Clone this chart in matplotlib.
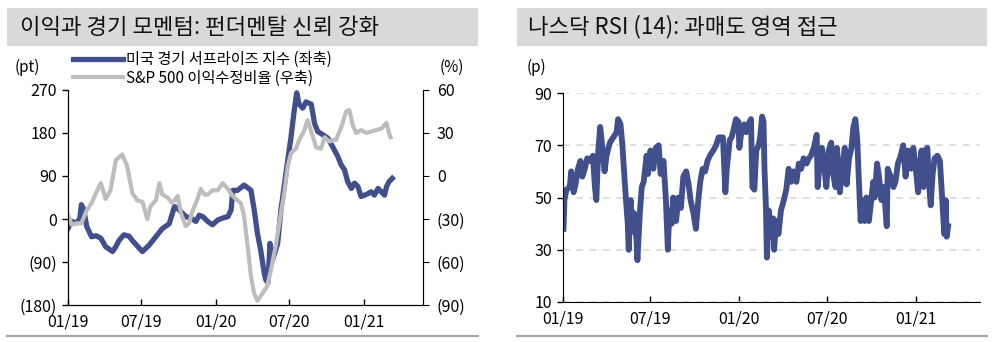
import matplotlib
matplotlib.use('Agg')
import matplotlib.pyplot as plt
import matplotlib.dates as mdates
import pandas as pd
from matplotlib.patches import Rectangle
from matplotlib.lines import Line2D
from matplotlib.ticker import FuncFormatter

plt.rcParams['font.family'] = ['Noto Sans CJK KR', 'DejaVu Sans']

BLUE = '#41508C'
GRAY = '#BDBDBD'

# 미국 경기 서프라이즈 지수 (pt)
surprise_dates = [
    '2019-01-01', '2019-01-10', '2019-01-22', '2019-01-30', '2019-02-03', '2019-02-09',
    '2019-02-16', '2019-02-28', '2019-03-11', '2019-03-23', '2019-04-04', '2019-04-21',
    '2019-04-29', '2019-05-07', '2019-05-19', '2019-06-01', '2019-06-09', '2019-06-26',
    '2019-07-04', '2019-07-20', '2019-08-06', '2019-08-22', '2019-09-08', '2019-09-21',
    '2019-09-29', '2019-10-11', '2019-10-19', '2019-11-01', '2019-11-13', '2019-11-21',
    '2019-11-30', '2019-12-12', '2019-12-24', '2020-01-06', '2020-01-18', '2020-01-31',
    '2020-02-08', '2020-02-12', '2020-02-24', '2020-03-11', '2020-03-28', '2020-04-05',
    '2020-04-13', '2020-04-21', '2020-04-30', '2020-05-04', '2020-05-09', '2020-05-14',
    '2020-05-20', '2020-06-02', '2020-06-10', '2020-06-18', '2020-06-27', '2020-07-05',
    '2020-07-13', '2020-07-19', '2020-07-25', '2020-08-03', '2020-08-11', '2020-08-24',
    '2020-09-01', '2020-09-09', '2020-09-22', '2020-10-04', '2020-10-16', '2020-10-29',
    '2020-11-06', '2020-11-14', '2020-11-22', '2020-12-01', '2020-12-09', '2020-12-17',
    '2020-12-25', '2021-01-03', '2021-01-11', '2021-01-19', '2021-01-27', '2021-02-05',
    '2021-02-13', '2021-02-21', '2021-02-26', '2021-03-04', '2021-03-12',
]
surprise = [
    -20, -5, -8, 0, 30, 20,
    -15, -37, -35, -40, -58, -68,
    -58, -45, -33, -36, -45, -61,
    -68, -55, -37, -20, -10, 26,
    22, 12, 5, 2, -5, 8,
    5, -5, -12, -2, 2, 5,
    19, 60, 60, 71, 60, 19,
    -30, -65, -114, -128, -133, -51,
    -86, -51, 19, 68, 124, 172,
    228, 264, 240, 232, 245, 240,
    200, 183, 176, 169, 151, 130,
    113, 103, 78, 64, 75, 68,
    47, 50, 53, 57, 50, 64,
    57, 50, 68, 78, 85,
]

# S&P 500 이익수정비율 (%)
revision_dates = [
    '2019-01-01', '2019-01-10', '2019-01-22', '2019-02-03', '2019-02-16', '2019-02-28',
    '2019-03-11', '2019-03-23', '2019-04-04', '2019-04-16', '2019-04-29', '2019-05-15',
    '2019-05-27', '2019-06-09', '2019-06-21', '2019-07-04', '2019-07-16', '2019-07-24',
    '2019-08-06', '2019-08-15', '2019-08-22', '2019-09-04', '2019-09-16', '2019-09-29',
    '2019-10-07', '2019-10-19', '2019-10-27', '2019-11-05', '2019-11-17', '2019-11-25',
    '2019-12-04', '2019-12-12', '2019-12-24', '2020-01-06', '2020-01-18', '2020-01-31',
    '2020-02-12', '2020-02-24', '2020-03-03', '2020-03-11', '2020-03-19', '2020-03-28',
    '2020-04-05', '2020-04-13', '2020-04-25', '2020-05-07', '2020-05-16', '2020-05-28',
    '2020-06-10', '2020-06-18', '2020-06-27', '2020-07-05', '2020-07-17', '2020-07-25',
    '2020-08-07', '2020-08-15', '2020-08-24', '2020-09-05', '2020-09-17', '2020-09-26',
    '2020-10-08', '2020-10-16', '2020-10-24', '2020-11-06', '2020-11-18', '2020-11-26',
    '2020-12-05', '2020-12-13', '2020-12-25', '2021-01-07', '2021-01-19', '2021-01-31',
    '2021-02-13', '2021-02-26', '2021-03-04', '2021-03-08',
]
revision = [
    -27, -34, -33, -33, -24, -19,
    -12, -5, -16, -10, 11, 15,
    7, -12, -17, -18, -30, -21,
    -17, -5, -13, -15, -19, -14,
    -26, -35, -33, -24, -16, -9,
    -13, -13, -10, -10, -5, -9,
    -14, -17, -19, -28, -47, -70,
    -82, -87, -82, -77, -66, -49,
    -26, -12, 7, 16, 19, 25,
    32, 39, 31, 20, 19, 27,
    24, 25, 25, 34, 45, 46,
    35, 30, 32, 30, 31, 32,
    33, 37, 30, 27,
]

# 나스닥 RSI (14)
rsi_dates = [
    '2019-01-02', '2019-01-04', '2019-01-08', '2019-01-15', '2019-01-18', '2019-01-23',
    '2019-01-27', '2019-02-01', '2019-02-06', '2019-02-10', '2019-02-15', '2019-02-20',
    '2019-02-25', '2019-03-04', '2019-03-08', '2019-03-11', '2019-03-15', '2019-03-19',
    '2019-03-24', '2019-03-28', '2019-04-01', '2019-04-08', '2019-04-15', '2019-04-22',
    '2019-04-25', '2019-04-30', '2019-05-04', '2019-05-07', '2019-05-11', '2019-05-15',
    '2019-05-17', '2019-05-21', '2019-05-25', '2019-05-28', '2019-06-02', '2019-06-04',
    '2019-06-09', '2019-06-13', '2019-06-17', '2019-06-23', '2019-06-26', '2019-07-01',
    '2019-07-07', '2019-07-12', '2019-07-18', '2019-07-22', '2019-07-28', '2019-08-02',
    '2019-08-06', '2019-08-09', '2019-08-14', '2019-08-17', '2019-08-23', '2019-08-28',
    '2019-09-02', '2019-09-07', '2019-09-13', '2019-09-18', '2019-09-22', '2019-09-28',
    '2019-10-03', '2019-10-08', '2019-10-12', '2019-10-17', '2019-10-22', '2019-10-27',
    '2019-11-01', '2019-11-08', '2019-11-14', '2019-11-19', '2019-11-24', '2019-11-28',
    '2019-12-03', '2019-12-06', '2019-12-12', '2019-12-16', '2019-12-20', '2019-12-25',
    '2019-12-30', '2020-01-01', '2020-01-05', '2020-01-11', '2020-01-15', '2020-01-20',
    '2020-01-25', '2020-01-28', '2020-02-01', '2020-02-05', '2020-02-10', '2020-02-13',
    '2020-02-17', '2020-02-20', '2020-02-22', '2020-02-25', '2020-02-27', '2020-03-02',
    '2020-03-06', '2020-03-11', '2020-03-13', '2020-03-17', '2020-03-22', '2020-03-27',
    '2020-04-02', '2020-04-07', '2020-04-12', '2020-04-17', '2020-04-22', '2020-04-28',
    '2020-05-03', '2020-05-08', '2020-05-13', '2020-05-19', '2020-05-24', '2020-05-28',
    '2020-06-03', '2020-06-09', '2020-06-11', '2020-06-15', '2020-06-20', '2020-06-25',
    '2020-06-29', '2020-07-04', '2020-07-09', '2020-07-13', '2020-07-18', '2020-07-21',
    '2020-07-27', '2020-08-01', '2020-08-06', '2020-08-10', '2020-08-15', '2020-08-20',
    '2020-08-24', '2020-08-28', '2020-09-01', '2020-09-04', '2020-09-08', '2020-09-11',
    '2020-09-16', '2020-09-20', '2020-09-25', '2020-09-30', '2020-10-04', '2020-10-07',
    '2020-10-12', '2020-10-16', '2020-10-21', '2020-10-26', '2020-11-01', '2020-11-03',
    '2020-11-09', '2020-11-15', '2020-11-19', '2020-11-24', '2020-11-30', '2020-12-05',
    '2020-12-10', '2020-12-15', '2020-12-21', '2020-12-26', '2020-12-31', '2021-01-05',
    '2021-01-09', '2021-01-12', '2021-01-16', '2021-01-19', '2021-01-24', '2021-01-28',
    '2021-01-31', '2021-02-04', '2021-02-08', '2021-02-14', '2021-02-19', '2021-02-24',
    '2021-02-28', '2021-03-03', '2021-03-05', '2021-03-08',
]
rsi = [
    38, 49, 53, 54, 60, 52,
    55, 61, 64, 58, 61, 65,
    64, 66, 54, 49, 68, 77,
    68, 60, 66, 71, 73, 75,
    80, 78, 70, 61, 50, 40,
    30, 49, 37, 44, 34, 26,
    44, 54, 56, 66, 59, 68,
    61, 69, 70, 59, 64, 49,
    30, 45, 40, 50, 41, 50,
    46, 58, 60, 55, 49, 44,
    38, 49, 56, 61, 60, 64,
    66, 68, 70, 73, 73, 73,
    52, 61, 72, 73, 76, 80,
    79, 69, 75, 78, 75, 78,
    80, 54, 53, 68, 70, 73,
    81, 79, 61, 46, 27, 45,
    35, 42, 30, 41, 36, 45,
    49, 53, 61, 56, 60, 56,
    63, 61, 65, 63, 65, 66,
    69, 74, 54, 63, 69, 61,
    54, 68, 71, 59, 54, 69,
    52, 61, 69, 55, 65, 69,
    77, 80, 72, 58, 41, 49,
    41, 50, 41, 49, 56, 50,
    63, 58, 49, 54, 39, 61,
    58, 54, 56, 63, 66, 70,
    58, 68, 61, 69, 61, 52,
    63, 68, 54, 68, 69, 54,
    47, 59, 65, 66, 64, 49,
    36, 49, 35, 39,
]

tick_dates = pd.to_datetime(['2019-01-01', '2019-07-01', '2020-01-01', '2020-07-01', '2021-01-01'])


def paren(v, pos):
    v = int(round(v))
    return f'({abs(v)})' if v < 0 else f'{v}'


def style_x(ax, end):
    ax.set_xlim(pd.Timestamp('2019-01-01'), pd.Timestamp(end))
    ax.set_xticks(tick_dates)
    ax.xaxis.set_major_formatter(mdates.DateFormatter('%m/%y'))
    ax.tick_params(axis='x', direction='in', length=4, pad=6, labelsize=11.5, width=1)
    ax.tick_params(axis='y', direction='out', length=4, pad=4, labelsize=11.5, width=1)
    ax.spines['top'].set_visible(False)


fig = plt.figure(figsize=(10, 3.42), dpi=100)

# title bands and bottom rules
for x0, w, title, tx in [(0.007, 0.471, '이익과 경기 모멘텀: 펀더멘탈 신뢰 강화', 0.020),
                         (0.517, 0.470, '나스닥 RSI (14): 과매도 영역 접근', 0.528)]:
    fig.add_artist(Rectangle((x0, 0.865), w, 0.111, transform=fig.transFigure,
                             facecolor='#D9D9D9', edgecolor='none', zorder=0))
    fig.text(tx, 0.921, title, fontsize=16, fontweight='medium', va='center', color='#111111')
    fig.add_artist(Line2D([x0, x0 + w], [0.018, 0.018], transform=fig.transFigure,
                          color='#A6A6A6', lw=1.6))

# left: surprise index vs earnings revision ratio
ax1 = fig.add_axes([0.068, 0.108, 0.355, 0.629])
ax2 = ax1.twinx()
l1, = ax1.plot(pd.to_datetime(surprise_dates), surprise, color=BLUE, lw=3.8, solid_joinstyle='round')
l2, = ax2.plot(pd.to_datetime(revision_dates), revision, color=GRAY, lw=3.0, solid_joinstyle='round')
style_x(ax1, '2021-05-27')
ax2.spines['top'].set_visible(False)
ax1.set_ylim(-180, 270)
ax1.set_yticks(range(-180, 271, 90))
ax1.yaxis.set_major_formatter(FuncFormatter(paren))
ax2.set_ylim(-90, 60)
ax2.set_yticks(range(-90, 61, 30))
ax2.yaxis.set_major_formatter(FuncFormatter(paren))
ax2.tick_params(axis='y', direction='out', length=4, pad=6, labelsize=11.5)

fig.text(0.015, 1 - 67 / 342, '(pt)', fontsize=11, va='center')
fig.text(0.440, 1 - 67 / 342, '(%)', fontsize=11, va='center')
fig.legend([l1, l2], ['미국 경기 서프라이즈 지수 (좌축)', 'S&P 500 이익수정비율 (우축)'],
           loc='upper left', bbox_to_anchor=(0.073, 1 - 51 / 342), frameon=False,
           handlelength=3.3, handletextpad=0.15, labelspacing=0.12, fontsize=11,
           borderaxespad=0, borderpad=0)

# right: Nasdaq RSI
ax3 = fig.add_axes([0.563, 0.117, 0.417, 0.611])
ax3.plot(pd.to_datetime(rsi_dates), rsi, color=BLUE, lw=4.2, solid_joinstyle='round')
style_x(ax3, '2021-05-13')
ax3.spines['right'].set_visible(False)
ax3.set_ylim(10, 90)
ax3.set_yticks(range(10, 91, 20))
ax3.yaxis.grid(True, linestyle=(0, (4, 4)), color='#D9D9D9', lw=1.2)
ax3.set_axisbelow(True)
fig.text(0.527, 1 - 67 / 342, '(p)', fontsize=11, va='center')

fig.savefig('out.png', dpi=100)
